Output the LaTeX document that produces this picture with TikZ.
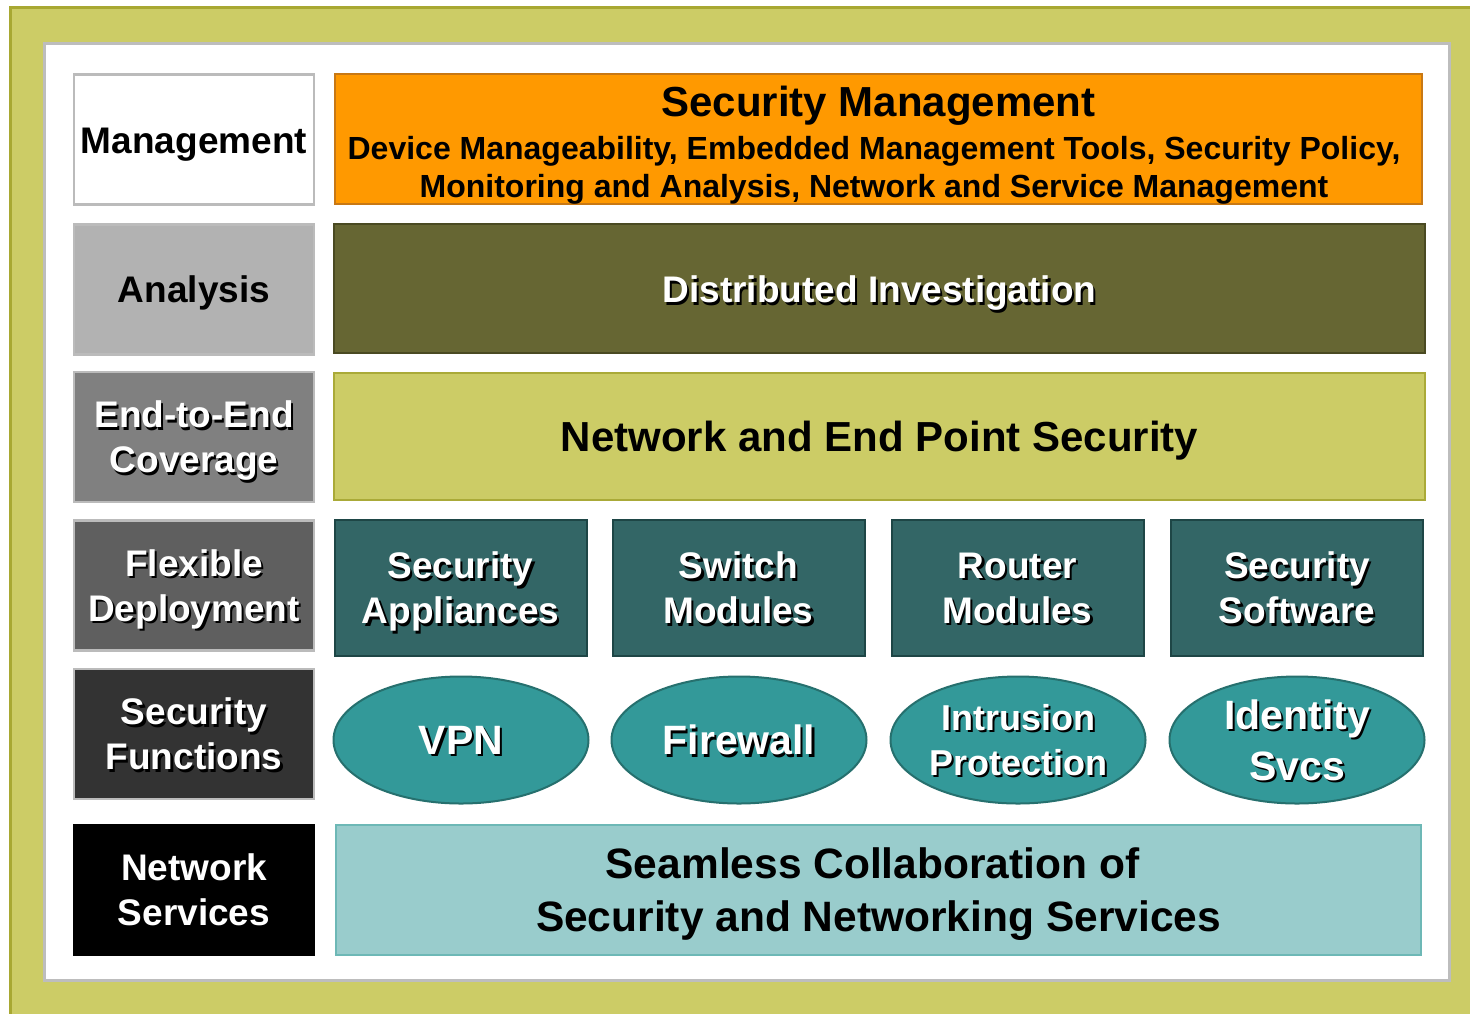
\documentclass[tikz,border=0pt]{standalone}
\usepackage{fontspec}
\setmainfont{Liberation Sans}
\usetikzlibrary{shapes.geometric}

\definecolor{frameolive}{HTML}{CCCC66}
\definecolor{frameline}{HTML}{A8A832}
\definecolor{panelline}{HTML}{BDBDBD}
\definecolor{boxline}{HTML}{BBBBBB}
\definecolor{grayA}{HTML}{B2B2B2}
\definecolor{grayB}{HTML}{808080}
\definecolor{grayC}{HTML}{5F5F5F}
\definecolor{grayD}{HTML}{333333}
\definecolor{mgmtorange}{HTML}{FF9900}
\definecolor{mgmtline}{HTML}{C87814}
\definecolor{darkolive}{HTML}{666633}
\definecolor{darkoliveline}{HTML}{4A4A22}
\definecolor{lightolive}{HTML}{CCCC66}
\definecolor{lightoliveline}{HTML}{AAAA38}
\definecolor{tealbox}{HTML}{336666}
\definecolor{tealboxline}{HTML}{1E4646}
\definecolor{tealell}{HTML}{339999}
\definecolor{tealellline}{HTML}{26706E}
\definecolor{paleteal}{HTML}{99CCCC}
\definecolor{paletealline}{HTML}{6DB8B6}

% font size shorthand and white text with a black drop shadow
\newcommand\fsz[2]{\fontsize{#1}{#2}\selectfont}
\newcommand\shd[1]{\leavevmode\rlap{\kern2.2pt\raisebox{-2.2pt}{\color{black}#1}}#1}

\tikzset{
  every node/.style={text depth=0pt},
  leftbox/.style={draw=boxline, line width=2.5pt, minimum width=240, minimum height=130,
    inner sep=0pt, align=center, font=\bfseries\fsz{37}{45}},
  widebox/.style={line width=2pt, minimum width=1091, minimum height=129,
    inner sep=0pt, align=center},
  tealcell/.style={draw=tealboxline, fill=tealbox, line width=2pt, minimum width=252,
    minimum height=136, inner sep=0pt, align=center, text=white, font=\bfseries\fsz{37}{45}},
  funcell/.style={ellipse, draw=tealellline, fill=tealell, line width=2pt, minimum width=255,
    minimum height=127, inner sep=0pt, align=center, text=white},
  caption/.style={inner sep=0pt, align=center, font=\bfseries},
}

\begin{document}
\begin{tikzpicture}[x=1pt, y=-1pt]
\useasboundingbox (0,0) rectangle (1470,1013);
\clip (0,0) rectangle (1470,1013);
\fill[white] (0,0) rectangle (1470,1013);

% outer frame and inner panel
\draw[frameline, fill=frameolive, line width=2.5pt] (10.5,7.5) rectangle (1490,1030);
\draw[panelline, fill=white, line width=3pt] (44.5,43.5) rectangle (1449.5,980.5);

% left column of capability labels
\node[leftbox, fill=white] (mgmt) at (194,139.5) {\raisebox{-3pt}{Management}};
\node[leftbox, fill=grayA] (analysis) at (194,289.5) {Analysis};
\node[leftbox, fill=grayB, text=white] (e2e) at (194,437) {\shd{End-to-End}\\\shd{Coverage}};
\node[leftbox, fill=grayC, text=white] (flex) at (194,585.5) {\shd{Flexible}\\\shd{Deployment}};
\node[leftbox, fill=grayD, text=white] (secfn) at (194,734) {\shd{Security}\\\shd{Functions}};
\node[leftbox, draw=black, fill=black, text=white] (netsvc) at (194,890) {Network\\Services};

% management band
\node[widebox, draw=mgmtline, fill=mgmtorange, minimum width=1087, minimum height=130] (secmgmt) at (878.5,139) {};
\node[caption, font=\bfseries\fsz{42}{48}] (smtitle) at (878.5,101) {Security Management};
\node[caption, font=\bfseries\fsz{32}{38}] (smsub) at (874,167)
  {Device Manageability, Embedded Management Tools, Security Policy,\\Monitoring and Analysis, Network and Service Management};

% analysis band
\node[widebox, draw=darkoliveline, fill=darkolive, text=white, font=\bfseries\fsz{37}{45}] (distinv) at (879.5,288.5)
  {\raisebox{-2pt}{\shd{Distributed Investigation}}};

% coverage band
\node[widebox, draw=lightoliveline, fill=lightolive, minimum height=127, font=\bfseries\fsz{42}{50}] (netend) at (879.5,436.5)
  {Network and End Point Security};

% deployment options
\node[tealcell] (appl) at (460.5,588) {\shd{Security}\\\shd{Appliances}};
\node[tealcell] (swmod) at (738.5,588) {\shd{Switch}\\\shd{Modules}};
\node[tealcell] (rtmod) at (1017.5,588) {\shd{Router}\\\shd{Modules}};
\node[tealcell] (secsw) at (1297,588) {\shd{Security}\\\shd{Software}};

% security functions
\node[funcell, font=\bfseries\fsz{41}{49}] (vpn) at (461,740) {\shd{VPN}};
\node[funcell, font=\bfseries\fsz{41}{49}] (fw) at (739,740) {\shd{Firewall}};
\node[funcell, font=\bfseries\fsz{36}{45}] (ips) at (1018,740) {\shd{Intrusion}\\\shd{Protection}};
\node[funcell, font=\bfseries\fsz{41}{51}] (idsvc) at (1297,740) {\shd{Identity}\\\shd{Svcs}};

% network services band
\node[widebox, draw=paletealline, fill=paleteal, minimum width=1085, minimum height=130, font=\bfseries\fsz{42.5}{53}] (collab) at (878.5,890)
  {Seamless Collaboration of\kern12pt\\Security and Networking Services};
\end{tikzpicture}
\end{document}
